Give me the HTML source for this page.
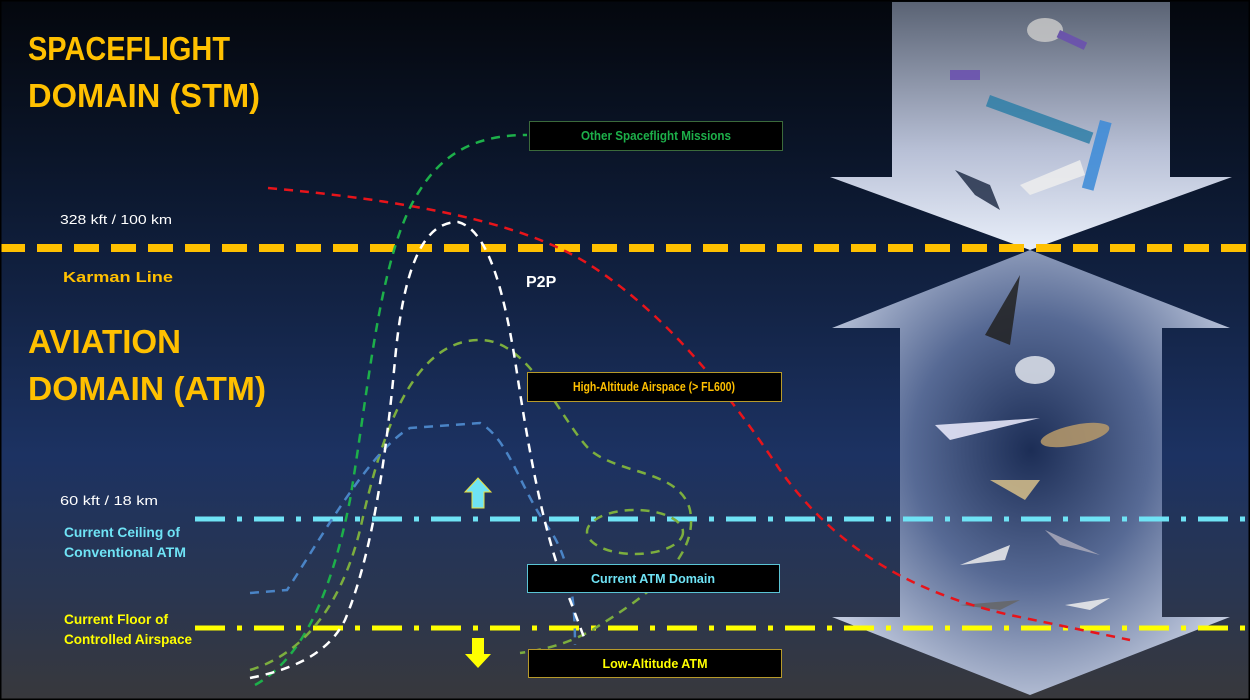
<!DOCTYPE html>
<html><head><meta charset="utf-8"><style>
html,body{margin:0;padding:0;background:#000;}
svg{display:block;}
text{font-family:"Liberation Sans",sans-serif;}
</style></head><body>
<svg width="1250" height="700" viewBox="0 0 1250 700" xmlns="http://www.w3.org/2000/svg">
<defs>
<linearGradient id="bg" x1="0" y1="0" x2="0" y2="1">
<stop offset="0" stop-color="#04070d"/>
<stop offset="0.3" stop-color="#0d1a33"/>
<stop offset="0.65" stop-color="#1c3262"/>
<stop offset="0.85" stop-color="#2a3650"/>
<stop offset="1" stop-color="#38383c"/>
</linearGradient>
<linearGradient id="a1" x1="0" y1="0" x2="0" y2="1">
<stop offset="0" stop-color="#5a6374"/>
<stop offset="0.6" stop-color="#b8c0d6"/>
<stop offset="1" stop-color="#e8eef9"/>
</linearGradient>
<radialGradient id="a2" cx="0.5" cy="0.45" r="0.6">
<stop offset="0" stop-color="#1c2d55"/>
<stop offset="0.5" stop-color="#5a6d98"/>
<stop offset="1" stop-color="#c9d2e6"/>
</radialGradient>
</defs>
<rect width="1250" height="700" fill="url(#bg)"/>
<!-- big arrows -->
<polygon points="892,2 1170,2 1170,177 1232,177 1030,250 830,177 892,177" fill="url(#a1)"/>
<polygon points="1030,250 1230,328 1162,328 1162,617 1230,617 1030,695 832,617 900,617 900,328 832,328" fill="url(#a2)" opacity="0.95"/>
<!-- some object blobs -->
<g opacity="0.85">
<ellipse cx="1045" cy="30" rx="18" ry="12" fill="#c8c8c8"/>
<rect x="1060" y="30" width="30" height="8" fill="#6a4fb0" transform="rotate(25 1060 30)"/>
<rect x="990" y="95" width="110" height="12" fill="#2f7fa8" transform="rotate(20 990 95)"/>
<rect x="950" y="70" width="30" height="10" fill="#6a4fb0"/>
<polygon points="955,170 990,185 1000,210 975,195" fill="#23304a"/>
<polygon points="1020,185 1080,160 1085,175 1030,195" fill="#eee"/>
<rect x="1100" y="120" width="12" height="70" fill="#3a8ad8" transform="rotate(15 1100 120)"/>
<polygon points="985,335 1020,275 1010,345" fill="#222"/>
<ellipse cx="1035" cy="370" rx="20" ry="14" fill="#e0e4ec"/>
<polygon points="935,425 1040,418 950,440" fill="#eef"/>
<ellipse cx="1075" cy="435" rx="35" ry="10" fill="#b89a6a" transform="rotate(-12 1075 435)"/>
<polygon points="990,480 1040,480 1025,500" fill="#d8c08a"/>
<polygon points="960,565 1010,545 1005,560" fill="#eee"/>
<polygon points="1045,530 1100,555 1060,545" fill="#aab"/>
<polygon points="960,605 1020,600 1000,610" fill="#666"/>
<polygon points="1065,605 1110,598 1090,610" fill="#eee"/>
</g>
<!-- horizontal lines -->
<line x1="0" y1="248" x2="1250" y2="248" stroke="#ffc000" stroke-width="8" stroke-dasharray="25,12"/>
<line x1="195" y1="519" x2="1250" y2="519" stroke="#6fe3f5" stroke-width="5" stroke-dasharray="30,12,5,12"/>
<line x1="195" y1="628" x2="1250" y2="628" stroke="#ffff00" stroke-width="5" stroke-dasharray="30,12,5,12"/>
<!-- curves -->
<g fill="none" stroke-width="2.5" stroke-dasharray="9,7">
<path d="M268,188 C400,200 520,220 590,265 C660,310 720,380 780,470 C830,540 900,590 1010,615 L1130,640" stroke="#e8141a"/>
<path d="M255,685 C300,660 330,600 350,500 C370,380 380,250 420,190 C445,150 480,135 527,135" stroke="#1db04a"/>
<path d="M250,670 C300,655 340,610 360,530 C380,440 410,340 480,340 C530,340 560,420 590,450 C620,475 680,470 690,510 C700,560 640,600 600,625 C570,645 540,650 520,653" stroke="#7cae3e"/>
<ellipse cx="635" cy="532" rx="48" ry="22" stroke="#7cae3e"/>
<path d="M250,593 L287,590 C320,540 370,450 410,428 L480,423 C510,440 520,490 550,530 C570,560 575,600 575,645" stroke="#4a84c6"/>
<path d="M250,678 C300,668 330,650 345,620 C370,560 385,470 395,360 C405,250 430,222 458,222 C490,230 505,300 515,360 C530,460 545,540 570,600 L585,640" stroke="#ffffff"/>
</g>
<!-- small arrows -->
<polygon points="478,478 491,492 484,492 484,508 472,508 472,492 465,492" fill="#6fe3f5" stroke="#e8e040" stroke-width="1"/>
<polygon points="478,668 491,654 484,654 484,638 472,638 472,654 465,654" fill="#ffff00"/>
<!-- boxes -->
<rect x="529.5" y="121.5" width="253" height="29" fill="#000" stroke="#3b6a3b"/>
<text x="656" y="140" fill="#1db04a" font-size="13" font-weight="bold" text-anchor="middle" textLength="150" lengthAdjust="spacingAndGlyphs">Other Spaceflight Missions</text>
<rect x="527.5" y="372.5" width="254" height="29" fill="#000" stroke="#b79a2a"/>
<text x="654" y="391" fill="#ffc000" font-size="13" font-weight="bold" text-anchor="middle" textLength="162" lengthAdjust="spacingAndGlyphs">High-Altitude Airspace (&gt; FL600)</text>
<rect x="527.5" y="564.5" width="252" height="28" fill="#000" stroke="#5ac4d4"/>
<text x="653" y="583" fill="#6fe3f5" font-size="13" font-weight="bold" text-anchor="middle" textLength="124" lengthAdjust="spacingAndGlyphs">Current ATM Domain</text>
<rect x="528.5" y="649.5" width="253" height="28" fill="#000" stroke="#b79a2a"/>
<text x="655" y="668" fill="#ffff00" font-size="13" font-weight="bold" text-anchor="middle" textLength="105" lengthAdjust="spacingAndGlyphs">Low-Altitude ATM</text>
<!-- labels -->
<g fill="#ffc000" font-weight="bold" font-size="33">
<text x="28" y="60" textLength="202" lengthAdjust="spacingAndGlyphs">SPACEFLIGHT</text>
<text x="28" y="107" textLength="232" lengthAdjust="spacingAndGlyphs">DOMAIN (STM)</text>
<text x="28" y="353" textLength="153" lengthAdjust="spacingAndGlyphs">AVIATION</text>
<text x="28" y="400" textLength="238" lengthAdjust="spacingAndGlyphs">DOMAIN (ATM)</text>
</g>
<text x="526" y="287" fill="#fff" font-size="16" font-weight="bold">P2P</text>
<text x="60" y="224" fill="#fff" font-size="13" textLength="112" lengthAdjust="spacingAndGlyphs">328 kft / 100 km</text>
<text x="63" y="282" fill="#ffc000" font-size="15" font-weight="bold" textLength="110" lengthAdjust="spacingAndGlyphs">Karman Line</text>
<text x="60" y="505" fill="#fff" font-size="13" textLength="98" lengthAdjust="spacingAndGlyphs">60 kft / 18 km</text>
<text x="64" y="537" fill="#6fe3f5" font-size="14" font-weight="bold" textLength="116" lengthAdjust="spacingAndGlyphs">Current Ceiling of</text>
<text x="64" y="557" fill="#6fe3f5" font-size="14" font-weight="bold" textLength="122" lengthAdjust="spacingAndGlyphs">Conventional ATM</text>
<text x="64" y="624" fill="#ffff00" font-size="14" font-weight="bold" textLength="104" lengthAdjust="spacingAndGlyphs">Current Floor of</text>
<text x="64" y="644" fill="#ffff00" font-size="14" font-weight="bold" textLength="128" lengthAdjust="spacingAndGlyphs">Controlled Airspace</text>
<rect x="0.5" y="0.5" width="1249" height="699" fill="none" stroke="#000" stroke-width="2"/>
</svg>
</body></html>
